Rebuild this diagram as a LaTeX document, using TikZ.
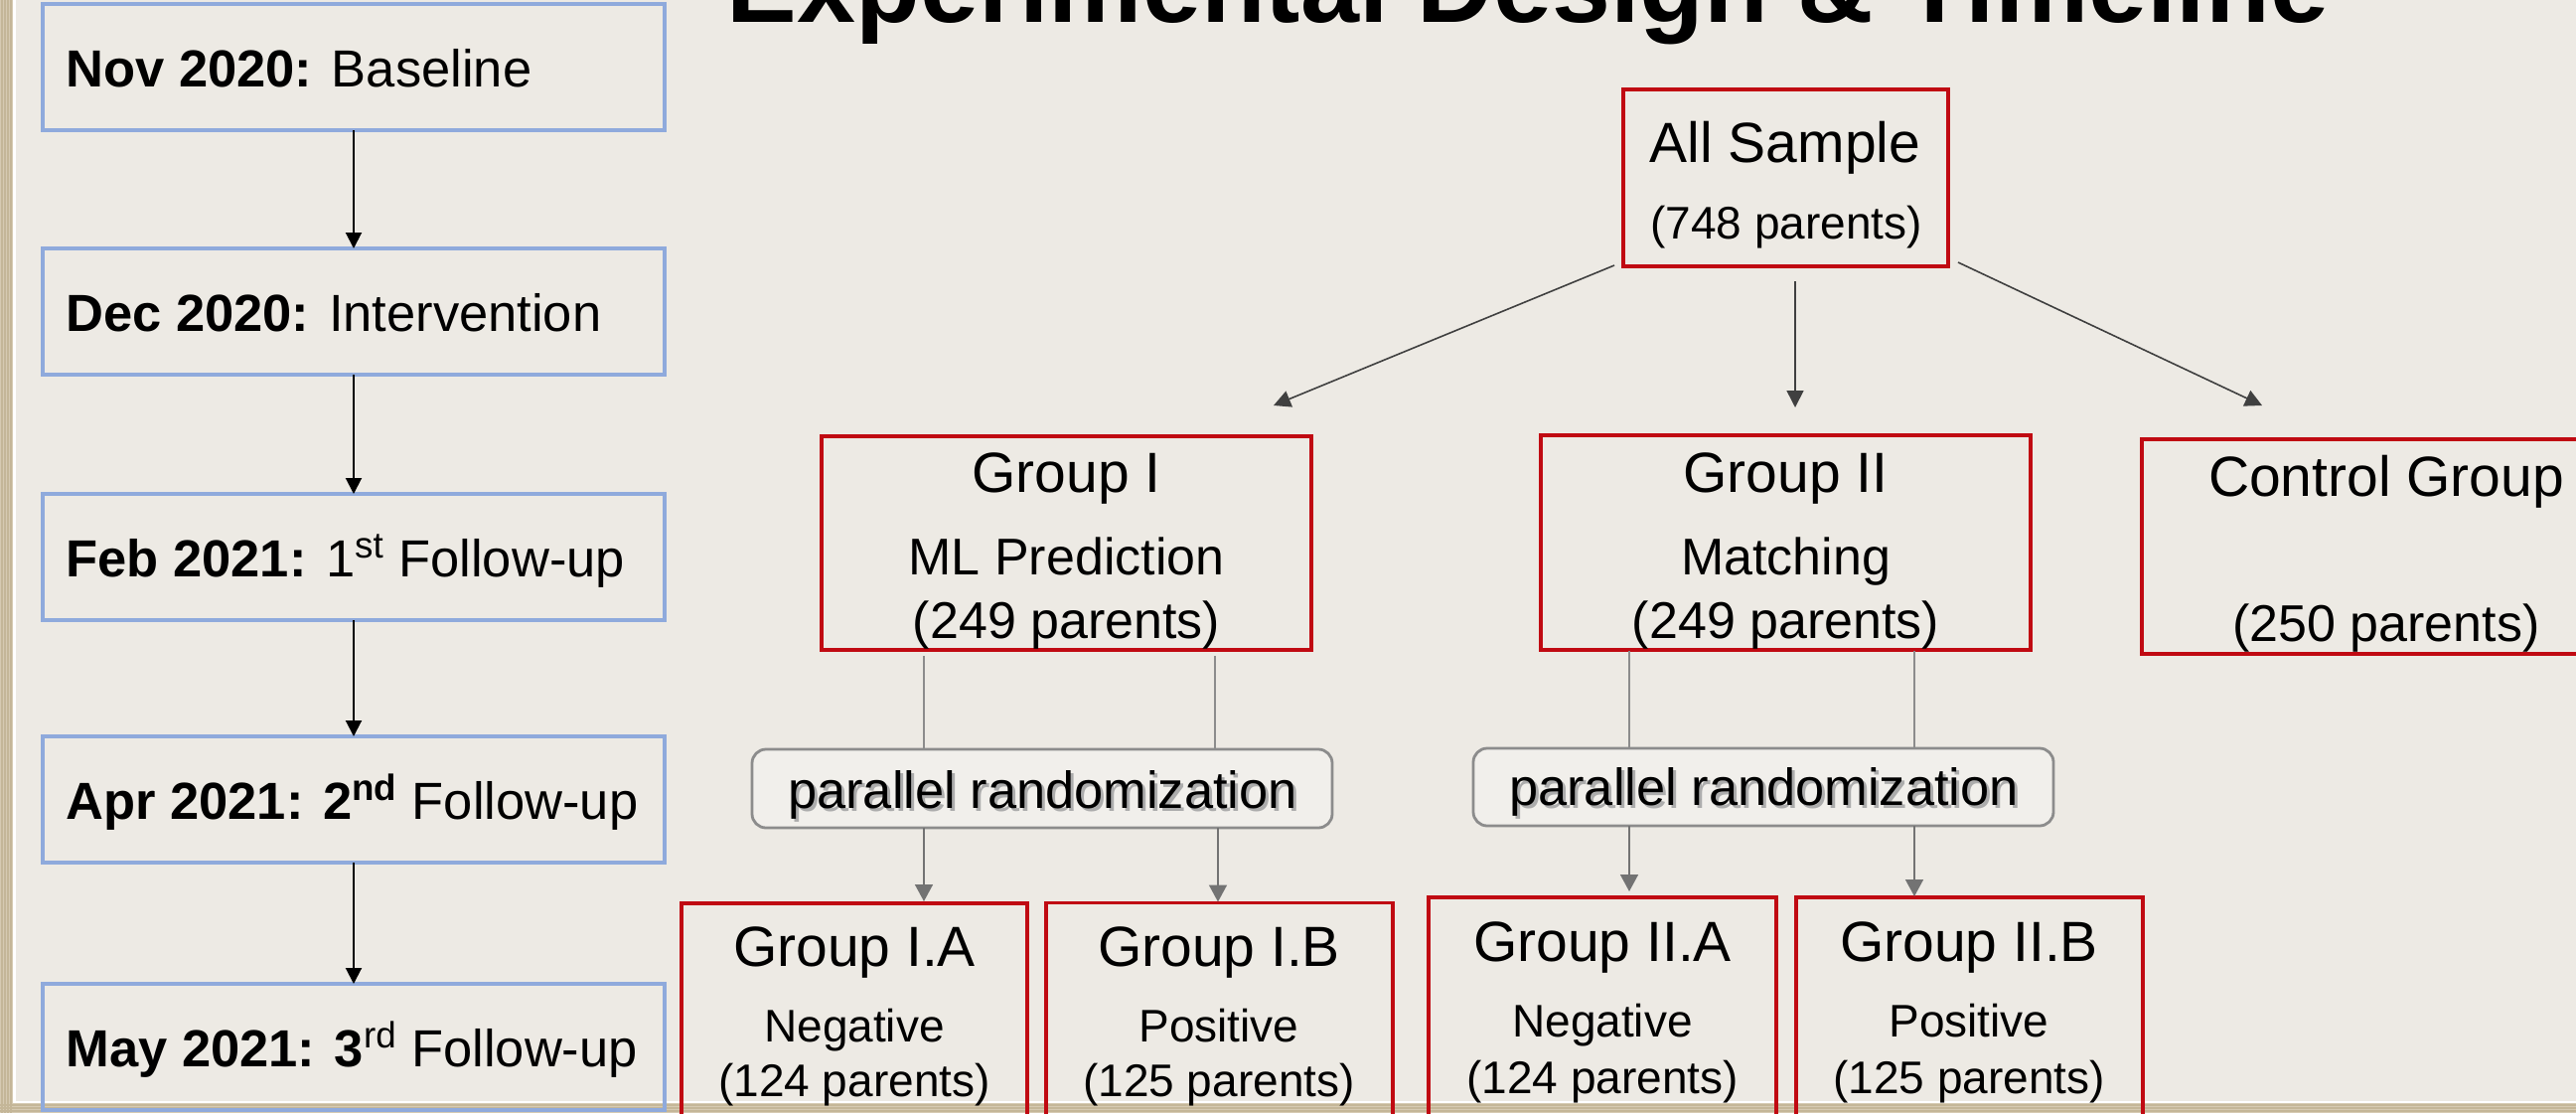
\documentclass[tikz,border=0pt]{standalone}
\usepackage{fontspec}
\setmainfont{Liberation Sans}
\usetikzlibrary{arrows.meta,calc}
\definecolor{panel}{RGB}{237,234,228}
\definecolor{tanedge}{RGB}{214,202,178}
\definecolor{tanline}{RGB}{196,182,152}
\definecolor{tlblue}{RGB}{143,170,220}
\definecolor{boxred}{RGB}{192,10,18}
\definecolor{dgrey}{RGB}{64,64,64}
\definecolor{mgrey}{RGB}{115,115,115}
\definecolor{lgrey}{RGB}{140,140,140}
\definecolor{prfill}{RGB}{241,239,235}
\definecolor{shadowgrey}{RGB}{172,172,172}
\newcommand{\fsz}[1]{\fontsize{#1pt}{#1pt}\selectfont}
\tikzset{
  tlbox/.style={draw=tlblue, line width=1.7pt, minimum width=313pt, minimum height=63.5pt, inner sep=0pt, outer sep=0pt},
  redbox/.style={draw=boxred, line width=1.6pt, inner sep=0pt, outer sep=0pt},
  prbox/.style={draw=lgrey, fill=prfill, line width=1.4pt, rounded corners=7pt, minimum width=292pt, minimum height=39.5pt, inner sep=0pt, outer sep=0pt},
  tltext/.style={anchor=base west, inner sep=0pt, font=\fsz{26.25}},
  hdr/.style={anchor=base, inner sep=0pt, font=\fsz{28.5}},
  subtxt/.style={anchor=base, inner sep=0pt, font=\fsz{26}},
  smalltxt/.style={anchor=base, inner sep=0pt, font=\fsz{23}},
  prtext/.style={anchor=base, inner sep=0pt, font=\fsz{26.2}},
  tlarrow/.style={-{Triangle[width=8pt,length=8pt]}, line width=1pt, black},
  darrow/.style={-{Triangle[width=8.5pt,length=8.5pt]}, line width=0.8pt, dgrey},
  garrow/.style={-{Triangle[width=9pt,length=8.5pt]}, line width=0.8pt, mgrey},
  gline/.style={line width=0.8pt, lgrey}
}
\begin{document}
\begin{tikzpicture}[x=0.5pt,y=-0.5pt]
\clip (0,0) rectangle (2593,1120);
% background
\fill[tanedge] (0,0) rectangle (2593,1120);
\foreach \xx in {2,5,8,11} {\draw[tanline, line width=0.6pt] (\xx,0) -- (\xx,1120);}
\foreach \yy in {1112,1115,1118} {\draw[tanline, line width=0.6pt] (0,\yy) -- (2593,\yy);}
\fill[white] (13,-5) rectangle (2600,1110);
\fill[panel] (15.5,-5) rectangle (2600,1107.5);

% title
\node[anchor=base, inner sep=0pt, font=\bfseries\fsz{53}] (title) at (1538,22) {Experimental Design \& Timeline};

% timeline
\node[tlbox] (t1) at (356,67.5) {};
\node[tlbox] (t2) at (356,313.5) {};
\node[tlbox] (t3) at (356,560.5) {};
\node[tlbox] (t4) at (356,804.5) {};
\node[tlbox] (t5) at (356,1053.5) {};
\node[tltext] (t1x) at ($(t1.west)+(23,19.5)$) {\textbf{Nov 2020:} Baseline};
\node[tltext] (t2x) at ($(t2.west)+(23,19.5)$) {\textbf{Dec 2020:} Intervention};
\node[tltext] (t3x) at ($(t3.west)+(23,19.5)$) {\textbf{Feb 2021:} 1\textsuperscript{st} Follow-up};
\node[tltext] (t4x) at ($(t4.west)+(23,19.5)$) {\textbf{Apr 2021: 2\textsuperscript{nd}} Follow-up};
\node[tltext] (t5x) at ($(t5.west)+(23,19.5)$) {\textbf{May 2021: 3}\textsuperscript{rd} Follow-up};
\draw[tlarrow] (t1.south) -- (t2.north);
\draw[tlarrow] (t2.south) -- (t3.north);
\draw[tlarrow] (t3.south) -- (t4.north);
\draw[tlarrow] (t4.south) -- (t5.north);

% design tree boxes
\node[redbox, minimum width=163.5pt, minimum height=89pt] (all) at (1797.5,179) {};
\node[hdr] (allt) at (1797,163) {All Sample};
\node[smalltxt] (alls) at (1798,240) {(748 parents)};

\node[redbox, minimum width=246.5pt, minimum height=107.5pt] (g1) at (1073.5,546.5) {};
\node[hdr] (g1t) at (1073.5,495) {Group I};
\node[subtxt] (g1m) at (1073.5,578) {ML Prediction};
\node[subtxt] (g1n) at (1073.5,642) {(249 parents)};

\node[redbox, minimum width=246.5pt, minimum height=108pt] (g2) at (1797.5,546) {};
\node[hdr] (g2t) at (1797.5,495) {Group II};
\node[subtxt] (g2m) at (1797.5,578) {Matching};
\node[subtxt] (g2n) at (1797.5,642) {(249 parents)};

\node[redbox, minimum width=246pt, minimum height=108pt] (cg) at (2402,550) {};
\node[hdr] (cgt) at (2402,499) {Control Group};
\node[subtxt] (cgn) at (2402,645) {(250 parents)};

\node[prbox] (pr1) at (1049,793.5) {};
\node[prtext, text=shadowgrey] (pr1s) at ($(pr1.center)+(3.5,22.5)$) {parallel randomization};
\node[prtext] (pr1t) at ($(pr1.center)+(0.5,19.5)$) {parallel randomization};

\node[prbox, minimum height=39pt] (pr2) at (1775,792) {};
\node[prtext, text=shadowgrey] (pr2s) at ($(pr2.center)+(3.5,21.5)$) {parallel randomization};
\node[prtext] (pr2t) at ($(pr2.center)+(0.5,18.5)$) {parallel randomization};

\node[redbox, minimum width=174pt, minimum height=115pt] (g1a) at (860,1024) {};
\node[hdr] (g1at) at (860,972) {Group I.A};
\node[smalltxt] (g1am) at (860,1048) {Negative};
\node[smalltxt] (g1an) at (860,1103) {(124 parents)};

\node[redbox, minimum width=174.5pt, minimum height=115pt] (g1b) at (1227.5,1023.5) {};
\node[hdr] (g1bt) at (1227,972) {Group I.B};
\node[smalltxt] (g1bm) at (1227,1048) {Positive};
\node[smalltxt] (g1bn) at (1227,1103) {(125 parents)};

\node[redbox, minimum width=175pt, minimum height=115pt] (g2a) at (1613,1018) {};
\node[hdr] (g2at) at (1613,967) {Group II.A};
\node[smalltxt] (g2am) at (1613,1043) {Negative};
\node[smalltxt] (g2an) at (1613,1100) {(124 parents)};

\node[redbox, minimum width=174.5pt, minimum height=115pt] (g2b) at (1982.5,1018) {};
\node[hdr] (g2bt) at (1982,967) {Group II.B};
\node[smalltxt] (g2bm) at (1982,1043) {Positive};
\node[smalltxt] (g2bn) at (1982,1100) {(125 parents)};

% connectors
\draw[darrow] ($(all.south west)+(-9,-1)$) -- ($(g1.north)+(208.5,-31)$);
\draw[darrow] ($(all.south)+(9.5,15)$) -- ($(g2.north)+(9.5,-28)$);
\draw[darrow] ($(all.south east)+(10,-4)$) -- ($(cg.north)+(-125,-34)$);

\draw[gline] ($(g1.south west)+(103,6)$) -- ($(pr1.north west)+(173,0)$);
\draw[gline] ($(g1.south west)+(396,6)$) -- ($(pr1.north west)+(466,0)$);
\draw[garrow] ($(pr1.south west)+(173,0)$) -- ($(g1a.north)+(70,-2)$);
\draw[garrow] ($(pr1.south west)+(469,0)$) -- ($(g1b.north)+(-1.5,-1)$);

\draw[gline] ($(g2.south west)+(89,1)$) -- ($(pr2.north west)+(157,0)$);
\draw[gline] ($(g2.south west)+(376,1)$) -- ($(pr2.north west)+(444,0)$);
\draw[garrow] ($(pr2.south west)+(157,0)$) -- ($(g2a.north)+(27,-6)$);
\draw[garrow] ($(pr2.south west)+(444,0)$) -- ($(g2b.north)+(-55.5,-1)$);
\end{tikzpicture}
\end{document}
